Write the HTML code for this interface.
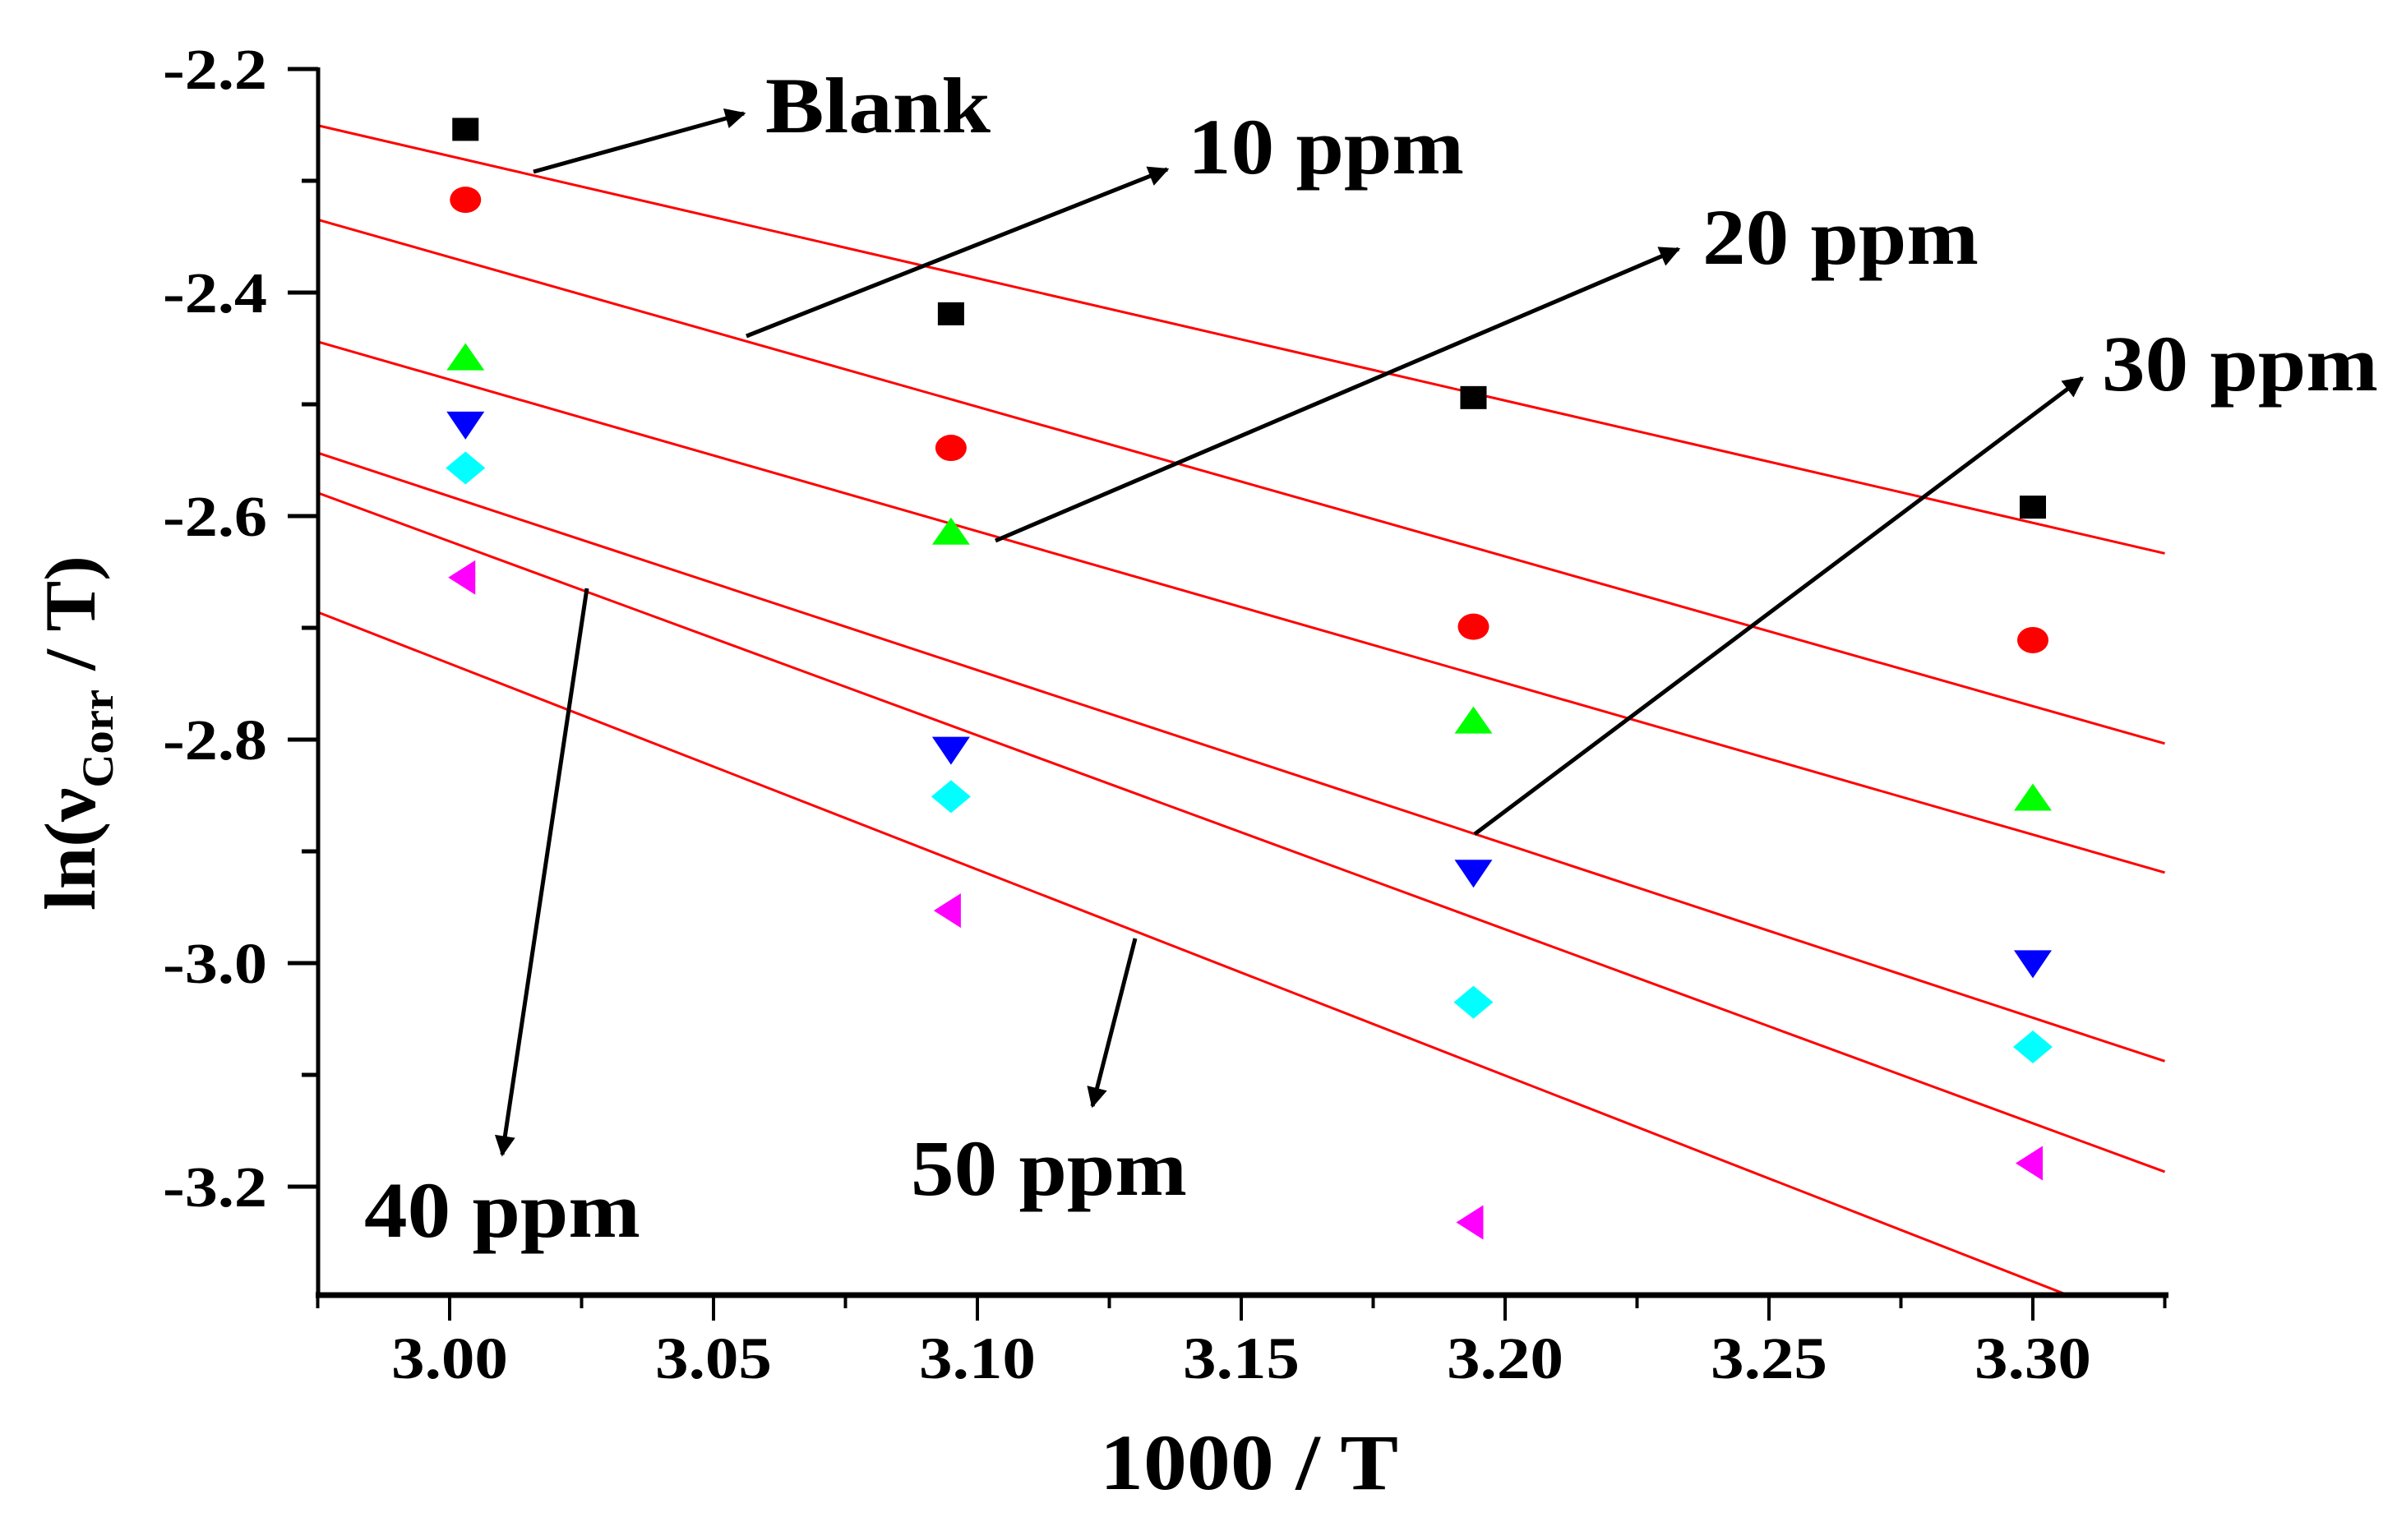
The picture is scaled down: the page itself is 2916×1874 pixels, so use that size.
<!DOCTYPE html>
<html><head><meta charset="utf-8"><style>
html,body{margin:0;padding:0;background:#fff;}
svg{display:block;}
text{font-family:"Liberation Serif",serif;font-weight:bold;fill:#000;}
</style></head><body>
<svg id="chart" width="2916" height="1874" viewBox="0 0 2916 1874">
<defs><marker id="ah" viewBox="0 0 10 10" refX="9" refY="5" markerWidth="7" markerHeight="5" orient="auto" markerUnits="strokeWidth"><path d="M0,0 L10,5 L0,10 Z" fill="#000"/></marker></defs>
<g id="lines"></g>
<g id="markers"></g>
<g id="axes"></g>
<g id="annot">
<line x1="649" y1="209" x2="905" y2="138" stroke="#000" stroke-width="5" marker-end="url(#ah)"/>
<line x1="908" y1="409" x2="1420" y2="206" stroke="#000" stroke-width="5" marker-end="url(#ah)"/>
<line x1="1211" y1="658" x2="2042" y2="303" stroke="#000" stroke-width="5" marker-end="url(#ah)"/>
<line x1="1794" y1="1015" x2="2533" y2="460" stroke="#000" stroke-width="5" marker-end="url(#ah)"/>
<line x1="714" y1="716" x2="611" y2="1405" stroke="#000" stroke-width="5" marker-end="url(#ah)"/>
<line x1="1381" y1="1142" x2="1329" y2="1346" stroke="#000" stroke-width="5" marker-end="url(#ah)"/>
<text x="931" y="161" font-size="96" textLength="274" lengthAdjust="spacingAndGlyphs">Blank</text>
<text x="1445" y="211" font-size="96" textLength="336" lengthAdjust="spacingAndGlyphs">10 ppm</text>
<text x="2071" y="321" font-size="96" textLength="336" lengthAdjust="spacingAndGlyphs">20 ppm</text>
<text x="2557" y="475" font-size="96" textLength="336" lengthAdjust="spacingAndGlyphs">30 ppm</text>
<text x="443" y="1505" font-size="96" textLength="336" lengthAdjust="spacingAndGlyphs">40 ppm</text>
<text x="1108" y="1454" font-size="96" textLength="336" lengthAdjust="spacingAndGlyphs">50 ppm</text>
</g>
<text x="1338" y="1812" font-size="96" textLength="363" lengthAdjust="spacingAndGlyphs">1000 / T</text>
<text transform="translate(115,1108) rotate(-90)" font-size="88" textLength="432" lengthAdjust="spacingAndGlyphs">ln(ν<tspan font-size="54" dy="22">Corr</tspan><tspan dy="-22"> / T)</tspan></text>
</svg>
<script>
const xValues = [3.003, 3.095, 3.194, 3.300];
const seriesNames = ["Blank", "10 ppm", "20 ppm", "30 ppm", "40 ppm", "50 ppm"];
const blankY = [-2.254, -2.419, -2.494, -2.592];
const ppm10Y = [-2.317, -2.539, -2.699, -2.711];
const ppm20Y = [-2.460, -2.616, -2.785, -2.854];
const ppm30Y = [-2.519, -2.810, -2.920, -3.001];
const ppm40Y = [-2.557, -2.851, -3.035, -3.075];
const ppm50Y = [-2.655, -2.953, -3.232, -3.179];
const xTicks = ["3.00", "3.05", "3.10", "3.15", "3.20", "3.25", "3.30"];
const yTicks = ["-2.2", "-2.4", "-2.6", "-2.8", "-3.0", "-3.2"];

const NS = "http://www.w3.org/2000/svg";
const XMIN = 2.975, XMAX = 3.325, YTOP = -2.2, YBOT = -3.297;
function sx(v){ return 547 + (v - 3.0) * 6420; }
function sy(v){ return 84 + (-2.2 - v) * 1360; }
function mk(tag, attrs, parent){ const e = document.createElementNS(NS, tag); for (const k in attrs) e.setAttribute(k, attrs[k]); parent.appendChild(e); return e; }

const allY = [blankY, ppm10Y, ppm20Y, ppm30Y, ppm40Y, ppm50Y];
const lg = document.getElementById('lines');
const mg = document.getElementById('markers');
const ag = document.getElementById('axes');

allY.forEach((ys, i) => {
  const n = xValues.length;
  const mx = xValues.reduce((a,b)=>a+b,0)/n, my = ys.reduce((a,b)=>a+b,0)/n;
  let sxy=0, sxx=0;
  for (let j=0;j<n;j++){ sxy += (xValues[j]-mx)*(ys[j]-my); sxx += (xValues[j]-mx)**2; }
  const m = sxy/sxx, b = my - m*mx;
  let x1 = XMIN, x2 = XMAX, y1 = m*x1+b, y2 = m*x2+b;
  if (y2 < YBOT) { x2 = (YBOT - b)/m; y2 = YBOT; }
  if (y1 > YTOP) { x1 = (YTOP - b)/m; y1 = YTOP; }
  const ln = mk('line', {x1:sx(x1), y1:sy(y1), x2:sx(x2), y2:sy(y2), stroke:'#ff0000', 'stroke-width':3}, lg);
  
  
});

const colors = ['#000000', '#ff0000', '#00ff00', '#0000ff', '#00ffff', '#ff00ff'];
allY.forEach((ys, i) => {
  ys.forEach((v, j) => {
    const cx = sx(xValues[j]), cy = sy(v);
    let el;
    if (i === 0) el = mk('rect', {x:cx-16, y:cy-14, width:32, height:28, fill:colors[i]}, mg);
    else if (i === 1) el = mk('ellipse', {cx:cx, cy:cy, rx:19, ry:16, fill:colors[i]}, mg);
    else if (i === 2) el = mk('polygon', {points:`${cx-23},${cy+13} ${cx+23},${cy+13} ${cx},${cy-20}`, fill:colors[i]}, mg);
    else if (i === 3) el = mk('polygon', {points:`${cx-23},${cy-17} ${cx+23},${cy-17} ${cx},${cy+17}`, fill:colors[i]}, mg);
    else if (i === 4) el = mk('polygon', {points:`${cx-24},${cy} ${cx},${cy-20} ${cx+24},${cy} ${cx},${cy+20}`, fill:colors[i]}, mg);
    else el = mk('polygon', {points:`${cx-21},${cy} ${cx+12},${cy-21} ${cx+12},${cy+21}`, fill:colors[i]}, mg);
    
    
  });
});

const yAxis = mk('line', {x1:387, y1:sy(YTOP)-2, x2:387, y2:1579, stroke:'#000', 'stroke-width':5}, ag);


const xAxis = mk('line', {x1:384, y1:1576, x2:2638, y2:1576, stroke:'#000', 'stroke-width':7}, ag);



yTicks.forEach((t) => {
  const v = parseFloat(t), y = sy(v);
  const tk = mk('line', {x1:350, y1:y, x2:387, y2:y, stroke:'#000', 'stroke-width':5}, ag);
  
  
  const lb = mk('text', {x:198, y:y+24, 'font-size':70, textLength:127, lengthAdjust:'spacingAndGlyphs'}, ag);
  lb.textContent = t;
  
  
  const ym = sy(v - 0.1);
  if (ym < 1576) {
    const mt = mk('line', {x1:367, y1:ym, x2:387, y2:ym, stroke:'#000', 'stroke-width':5}, ag);
    
    
  }
});
const ymt = mk('line', {x1:367, y1:sy(-2.3), x2:387, y2:sy(-2.3), stroke:'#000', 'stroke-width':5}, ag);



xTicks.forEach((t) => {
  const v = parseFloat(t), x = sx(v);
  const tk = mk('line', {x1:x, y1:1576, x2:x, y2:1607, stroke:'#000', 'stroke-width':4}, ag);
  
  
  const lb = mk('text', {x:x-71, y:1677, 'font-size':72, textLength:142, lengthAdjust:'spacingAndGlyphs'}, ag);
  lb.textContent = t;
  
  
});
[2.975, 3.025, 3.075, 3.125, 3.175, 3.225, 3.275, 3.325].forEach((v) => {
  const x = sx(v);
  const mt = mk('line', {x1:x, y1:1576, x2:x, y2:1592, stroke:'#000', 'stroke-width':4}, ag);
  
  
});
</script>
</body></html>
